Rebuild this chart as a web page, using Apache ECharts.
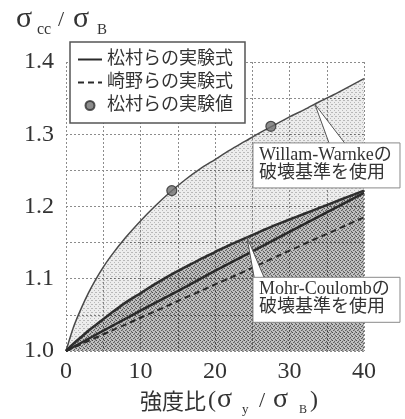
<!DOCTYPE html>
<html>
<head>
<meta charset="utf-8">
<script src="https://cdn.jsdelivr.net/npm/echarts@6/dist/echarts.min.js"></script>
<style>
  html, body { margin: 0; padding: 0; background: #fff; }
  #main { width: 405px; height: 419px; }
</style>
</head>
<body>
<div id="main"></div>
<script>
// strength ratio σy/σB at which the analysis bands are sampled
const curveRatio = [0, 1, 2, 3, 4, 5, 6, 8, 10, 12, 14, 16, 18, 20, 22, 24, 26, 28, 30, 32, 34, 36, 38, 40];
// upper edge of the Willam-Warnke band
const willamWarnke = [1.000, 1.033, 1.058, 1.080, 1.099, 1.116, 1.131, 1.157, 1.180, 1.201, 1.220, 1.237, 1.252, 1.265, 1.278, 1.290, 1.302, 1.313, 1.324, 1.334, 1.345, 1.355, 1.366, 1.377];
// upper edge of the Mohr-Coulomb band
const mohrCoulomb = [1.000, 1.010, 1.019, 1.028, 1.036, 1.044, 1.052, 1.067, 1.080, 1.093, 1.105, 1.116, 1.127, 1.137, 1.147, 1.156, 1.165, 1.174, 1.182, 1.190, 1.198, 1.206, 1.214, 1.222];

// empirical formulas
const formulaRatio = [0, 5, 10, 15, 20, 25, 30, 35, 40];
const matsumuraFormula = [1.000, 1.028, 1.056, 1.083, 1.111, 1.138, 1.165, 1.192, 1.219];
const sakinoFormula = [1.000, 1.023, 1.046, 1.069, 1.092, 1.115, 1.139, 1.162, 1.185];

// test results
const testRatio = [14.2, 27.5];
const testStrength = [1.222, 1.311];

// labelled ticks
const xTickLabels = [0, 10, 20, 30, 40];
const yTickLabels = [1.0, 1.1, 1.2, 1.3, 1.4];

const SERIF = "'Liberation Serif', 'DejaVu Serif', serif";
const CJK = "'Liberation Serif', 'Noto Sans CJK JP', sans-serif";
const INK = '#333';

const zip = (xs, ys) => xs.map((x, i) => [x, ys[i]]);

// halftone-like fill: a small tile of translucent dots
function stipple(base, dot, cells) {
  const c = document.createElement('canvas');
  c.width = 4; c.height = 4;
  const g = c.getContext('2d');
  g.fillStyle = base; g.fillRect(0, 0, 4, 4);
  g.fillStyle = dot;
  cells.forEach(([x, y]) => g.fillRect(x, y, 1, 1));
  return { image: c, repeat: 'repeat' };
}
const lightFill = stipple('rgba(0,0,0,0.07)', 'rgba(0,0,0,0.22)', [[0, 0], [2, 2], [3, 0]]);
const darkFill = stipple('rgba(0,0,0,0.19)', 'rgba(0,0,0,0.5)', [[0, 0], [2, 1], [1, 2], [3, 3]]);

const chart = echarts.init(document.getElementById('main'), null, { renderer: 'canvas' });

const gridLine = { show: true, lineStyle: { color: '#8c8c8c', width: 1, type: [2, 2] } };
const hiddenDot = { opacity: 0 };

chart.setOption({
  animation: false,
  backgroundColor: '#fff',
  grid: { left: 66, right: 41, top: 62, bottom: 68 },
  xAxis: {
    type: 'value', min: 0, max: 40, interval: 5,
    axisLine: { show: false }, axisTick: { show: false },
    splitLine: gridLine,
    axisLabel: {
      margin: 9, color: INK, fontFamily: SERIF, fontSize: 24,
      formatter: v => xTickLabels.some(t => Math.abs(t - v) < 1e-6) ? String(Math.round(v)) : ''
    }
  },
  yAxis: {
    type: 'value', min: 1.0, max: 1.4, interval: 0.05,
    axisLine: { show: false }, axisTick: { show: false },
    splitLine: gridLine,
    axisLabel: {
      margin: 12, color: INK, fontFamily: SERIF, fontSize: 24,
      formatter: v => {
        const t = yTickLabels.find(t => Math.abs(t - v) < 1e-6);
        return t === undefined ? '' : t.toFixed(1);
      }
    }
  },
  legend: {
    data: [
      { name: '松村らの実験式', itemStyle: hiddenDot },
      { name: '崎野らの実験式', itemStyle: hiddenDot },
      { name: '松村らの実験値' }
    ],
    orient: 'vertical', left: 70, top: 42,
    padding: [8, 12, 8, 7],
    itemWidth: 24, itemHeight: 9, itemGap: 4,
    backgroundColor: '#fff', borderColor: '#555', borderWidth: 1.5, borderRadius: 0,
    textStyle: { fontFamily: CJK, fontSize: 18, lineHeight: 19, color: INK }
  },
  series: [
    {
      name: 'Willam-Warnke', type: 'line', data: zip(curveRatio, willamWarnke),
      symbol: 'none', smooth: 0.3, z: 1, color: '#4a4a4a',
      lineStyle: { color: '#4a4a4a', width: 1.5 },
      areaStyle: { color: lightFill, origin: 'start', opacity: 1 }
    },
    {
      name: 'Mohr-Coulomb', type: 'line', data: zip(curveRatio, mohrCoulomb),
      symbol: 'none', smooth: 0.3, z: 2, color: '#2e2e2e',
      lineStyle: { color: '#2e2e2e', width: 2.5 },
      areaStyle: { color: darkFill, origin: 'start', opacity: 1 }
    },
    {
      name: '松村らの実験式', type: 'line', data: zip(formulaRatio, matsumuraFormula),
      symbol: 'none', z: 3, color: '#2a2a2a',
      lineStyle: { color: '#2a2a2a', width: 2.5 }
    },
    {
      name: '崎野らの実験式', type: 'line', data: zip(formulaRatio, sakinoFormula),
      symbol: 'none', z: 3, color: '#2a2a2a',
      lineStyle: { color: '#2a2a2a', width: 2, type: [6, 4] }
    },
    {
      name: '松村らの実験値', type: 'scatter', data: zip(testRatio, testStrength),
      symbol: 'circle', symbolSize: 10, z: 4,
      itemStyle: { color: '#6f6f6f', borderColor: '#2e2e2e', borderWidth: 1.2 }
    }
  ]
});

// value of a sampled curve at ratio x (used to seat the callout tips on their curves)
function curveAt(xs, ys, x) {
  for (let i = 1; i < xs.length; i++) {
    if (x <= xs[i]) {
      const t = (x - xs[i - 1]) / (xs[i] - xs[i - 1]);
      return ys[i - 1] + t * (ys[i] - ys[i - 1]);
    }
  }
  return ys[ys.length - 1];
}

const toPx = p => chart.convertToPixel({ gridIndex: 0 }, p);

// callouts: tip on a curve, wedge base on the box top, box anchored at its top-left corner
const callouts = [
  { text: 'Willam-Warnkeの\n破壊基準を使用', tipX: 33.4, curve: willamWarnke, corner: [25.1, 1.288], base: [35.4, 37.6] },
  { text: 'Mohr-Coulombの\n破壊基準を使用', tipX: 24.3, curve: mohrCoulomb, corner: [25.1, 1.102], base: [25.3, 26.7] }
];

const graphics = [];
callouts.forEach(c => {
  const tip = toPx([c.tipX, curveAt(curveRatio, c.curve, c.tipX)]);
  const corner = toPx(c.corner);
  const b1 = toPx([c.base[0], c.corner[1]]);
  const b2 = toPx([c.base[1], c.corner[1]]);
  graphics.push({
    type: 'polygon', z: 100,
    shape: { points: [tip, [b1[0], b1[1] + 2], [b2[0], b2[1] + 2]] },
    style: { fill: '#fff', stroke: '#555', lineWidth: 1 }
  });
  graphics.push({
    type: 'rect', z: 101,
    shape: { x: corner[0], y: corner[1], width: 147, height: 45 },
    style: { fill: '#fff', stroke: '#8a8a8a', lineWidth: 1 }
  });
  graphics.push({
    type: 'text', z: 102, x: corner[0] + 6, y: corner[1] + 3,
    style: { text: c.text, fill: INK, font: "18px " + CJK, lineHeight: 18, verticalAlign: 'top' }
  });
});

// axis titles
const title = (txt, x, y, size, family) => ({
  type: 'text', z: 102, x: x, y: y,
  style: { text: txt, fill: INK, font: size + 'px ' + family, verticalAlign: 'middle' }
});
graphics.push(
  title('σ', 16, 19, 30, SERIF),
  title('cc', 37, 30, 16, SERIF),
  title('/', 58, 20, 22, SERIF),
  title('σ', 73, 19, 30, SERIF),
  title('B', 97, 30, 15, SERIF),

  title('強度比', 140, 401, 22, "'Noto Sans CJK JP'"),
  title('(', 208, 401, 24, SERIF),
  title('σ', 217, 400, 28, SERIF),
  title('y', 242, 410, 13, SERIF),
  title('/', 259, 401, 22, SERIF),
  title('σ', 273, 400, 28, SERIF),
  title('B', 299, 410, 12, SERIF),
  title(')', 310, 401, 24, SERIF)
);

chart.setOption({ graphic: graphics });
</script>
</body>
</html>
